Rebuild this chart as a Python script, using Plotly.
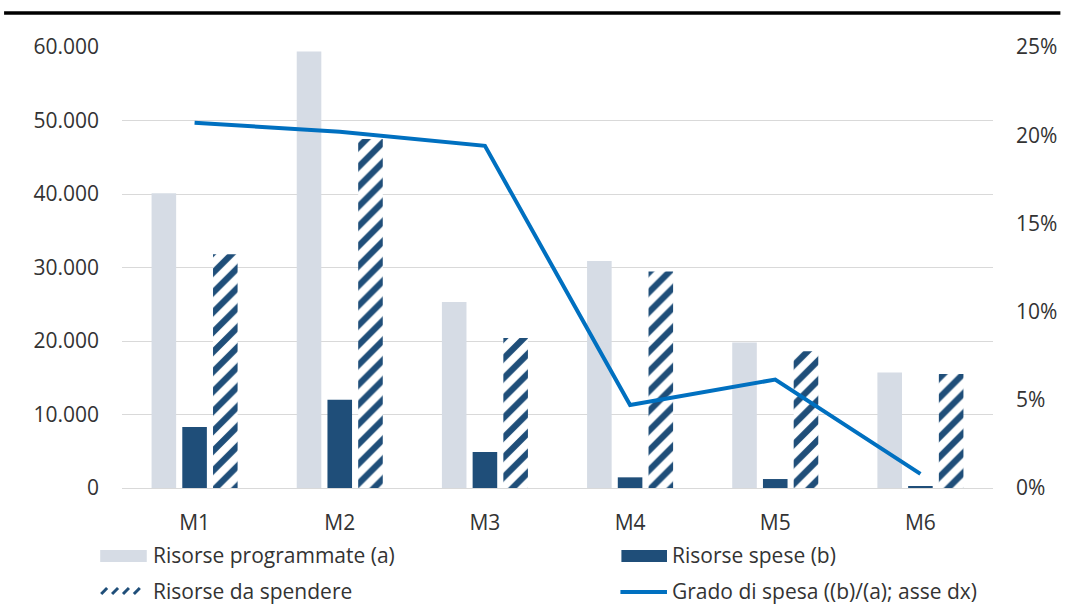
import plotly.graph_objects as go

categories = ["M1", "M2", "M3", "M4", "M5", "M6"]
programmate = [40100, 59400, 25300, 30900, 19800, 15700]
spese = [8300, 12000, 4900, 1450, 1220, 200]
da_spendere = [31800, 47500, 20400, 29450, 18600, 15500]
grado = [0.207, 0.202, 0.194, 0.047, 0.0615, 0.008]

legend_labels = ["Risorse programmate (a)", "Risorse spese (b)",
                 "Risorse da spendere", "Grado di spesa ((b)/(a); asse dx)"]

GREY = "#D6DCE5"
DARK = "#1F4E79"
LINE = "#0070C0"
TXT = "#333333"
FONT = "Open Sans"
FS = 21

W, H = 1069, 610
L, R, T, B = 122, 68, 47, 122
PW, PH = W - L - R, H - T - B

fig = go.Figure()
fig.add_bar(x=categories, y=programmate, name=legend_labels[0],
            marker=dict(color=GREY, line=dict(width=0)), showlegend=False)
fig.add_bar(x=categories, y=spese, name=legend_labels[1],
            marker=dict(color=DARK, line=dict(width=0)), showlegend=False)
fig.add_bar(x=categories, y=da_spendere, name=legend_labels[2],
            marker=dict(color="white", line=dict(width=0),
                        pattern=dict(shape="/", fgcolor=DARK, bgcolor="white",
                                     size=14, solidity=0.45, fillmode="replace")),
            showlegend=False)
fig.add_scatter(x=categories, y=grado, name=legend_labels[3], yaxis="y2",
                mode="lines", line=dict(color=LINE, width=4), showlegend=False)


def px(x):
    return (x - L) / PW


def py(y):
    return (H - B - y) / PH


shapes = []
# top rule
shapes.append(dict(type="line", xref="paper", yref="paper",
                   x0=px(3), x1=px(1069), y0=py(13), y1=py(13),
                   line=dict(color="black", width=3.5)))
# legend symbols
shapes.append(dict(type="rect", xref="paper", yref="paper",
                   x0=px(100), x1=px(147), y0=py(562), y1=py(550),
                   fillcolor=GREY, line=dict(width=0)))
shapes.append(dict(type="rect", xref="paper", yref="paper",
                   x0=px(626), x1=px(672), y0=py(562), y1=py(550),
                   fillcolor=DARK, line=dict(width=0)))
shapes.append(dict(type="line", xref="paper", yref="paper",
                   x0=px(625), x1=px(672), y0=py(592), y1=py(592),
                   line=dict(color=LINE, width=4)))
for i in range(4):
    x0 = 101 + 11 * i
    shapes.append(dict(type="line", xref="paper", yref="paper",
                       x0=px(x0), x1=px(x0 + 6), y0=py(594), y1=py(588),
                       line=dict(color=DARK, width=3)))

annotations = []
for label, (x, y) in zip(legend_labels, [(151, 555), (675, 555), (151, 591), (675, 591)]):
    annotations.append(dict(text=label, xref="paper", yref="paper",
                            x=px(x), y=py(y), xanchor="left", yanchor="middle",
                            showarrow=False, font=dict(family=FONT, size=FS, color=TXT)))

fig.update_layout(
    width=W, height=H,
    margin=dict(l=L, r=R, t=T, b=B),
    paper_bgcolor="white", plot_bgcolor="white",
    separators=",.",
    barmode="group", bargap=0.365, bargroupgap=0.2,
    font=dict(family=FONT, size=FS, color=TXT),
    shapes=shapes, annotations=annotations,
    xaxis=dict(showgrid=False, showline=True, linecolor="#D9D9D9", linewidth=1,
               ticks="", ticklabelstandoff=16, tickfont=dict(size=FS, color=TXT)),
    yaxis=dict(range=[0, 60000], dtick=10000, tickformat=",.0f",
               showgrid=True, gridcolor="#D9D9D9", gridwidth=1,
               zeroline=False, showline=False, ticks="",
               ticklabelstandoff=22, tickfont=dict(size=FS, color=TXT)),
    yaxis2=dict(range=[0, 0.25], dtick=0.05, tickformat=".0%", overlaying="y",
                side="right", showgrid=False, zeroline=False, showline=False,
                ticks="", ticklabelstandoff=22, tickfont=dict(size=FS, color=TXT)),
)

fig.write_html("out.html", config={"displayModeBar": False},
               post_script="document.body.style.margin='0';")
